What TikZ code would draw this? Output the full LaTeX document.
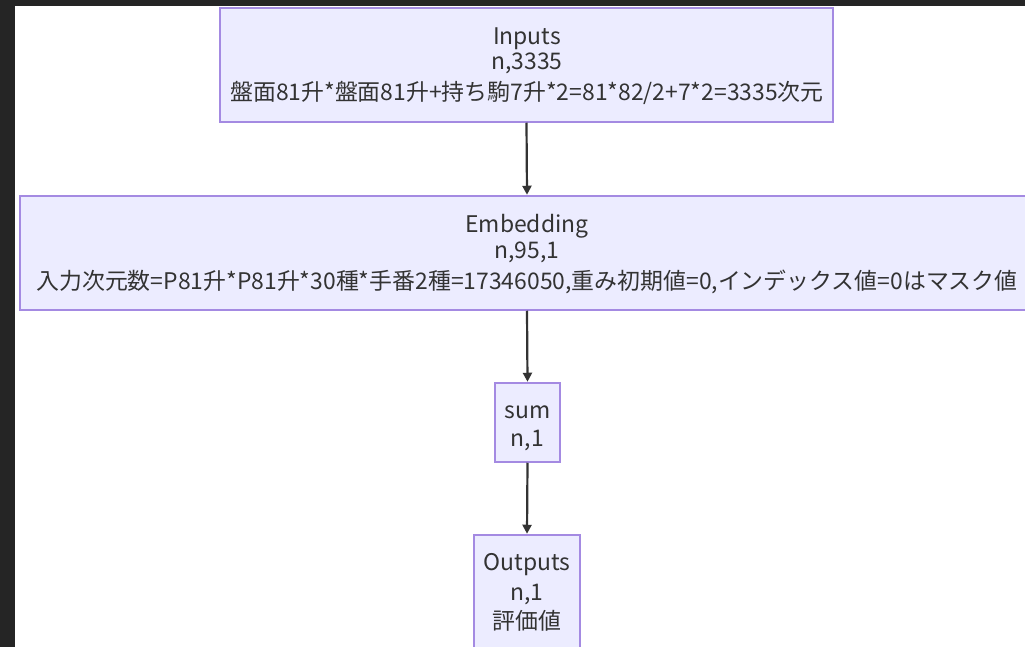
\documentclass[tikz,border=0pt]{standalone}
\usepackage{fontspec}
\setmainfont{Noto Sans CJK JP}
\usetikzlibrary{arrows.meta}
\definecolor{frame}{HTML}{252525}
\definecolor{boxfill}{HTML}{ECECFF}
\definecolor{boxline}{HTML}{A48AE2}
\definecolor{ink}{HTML}{333333}
\tikzset{
  box/.style={draw=boxline, fill=boxfill, line width=1.5pt, rectangle, inner sep=0pt},
  lbl/.style={anchor=base, inner sep=0pt, text=ink, font=\fontsize{22.9}{27}\selectfont},
  arr/.style={draw=ink, line width=2.2pt, -{Triangle[length=9pt,width=9pt]}, shorten >=0.5pt},
}
\begin{document}
\begin{tikzpicture}[x=1pt,y=-1pt]
\useasboundingbox (0,0) rectangle (1025,647);
\clip (0,0) rectangle (1025,647);
\fill[frame] (0,0) rectangle (1025,647);
\fill[white] (15,6) rectangle (1030,652);
% boxes
\node[box, minimum width=613pt, minimum height=114pt] (inp) at (526.5,65) {};
\node[box, minimum width=1014pt, minimum height=114pt] (emb) at (527,253) {};
\node[box, minimum width=65pt, minimum height=79pt] (sum) at (527.5,422.5) {};
\node[box, minimum width=106pt, minimum height=114pt] (out) at (527,592) {};
% labels
\node[lbl] (inp1) at (527,45) {Inputs};
\node[lbl] (inp2) at (527,70) {n,3335};
\node[lbl] (inp3) at (527,101) {盤面81升*盤面81升+持ち駒7升*2=81*82/2+7*2=3335次元};
\node[lbl] (emb1) at (527,233) {Embedding};
\node[lbl] (emb2) at (527,258) {n,95,1};
\node[lbl] (emb3) at (527,289) {入力次元数=P81升*P81升*30種*手番2種=17346050,重み初期値=0,インデックス値=0はマスク値};
\node[lbl] (sum1) at (527.5,418) {sum};
\node[lbl] (sum2) at (527.5,446) {n,1};
\node[lbl] (out1) at (527,570.5) {Outputs};
\node[lbl] (out2) at (527,600) {n,1};
\node[lbl] (out3) at (527,629) {評価値};
% connectors
\draw[arr] (inp.south) -- (emb.north);
\draw[arr] (emb.south) -- (sum.north);
\draw[arr] (sum.south) -- (out.north);
\end{tikzpicture}
\end{document}
